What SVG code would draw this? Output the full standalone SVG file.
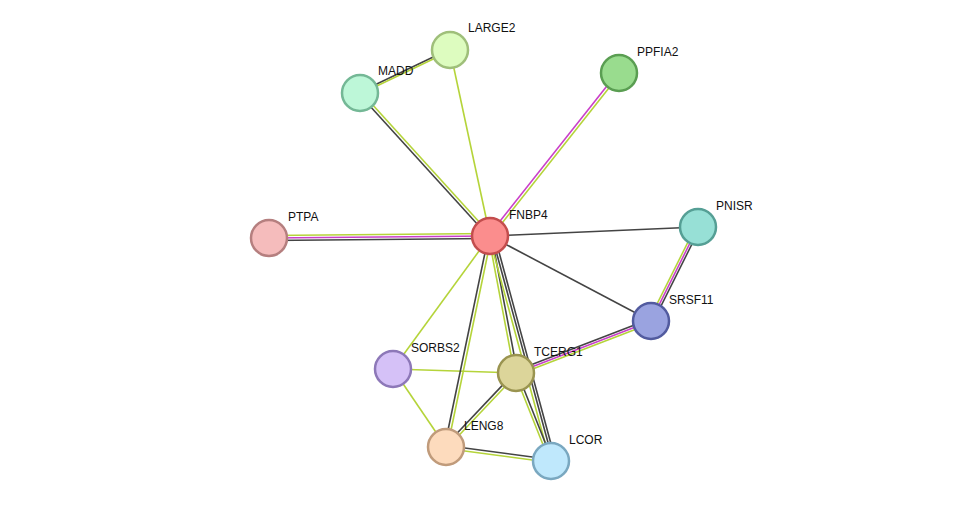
<svg xmlns="http://www.w3.org/2000/svg" width="975" height="507" viewBox="0 0 975 507">
<style>
.k{stroke:#444;stroke-width:1.6}
.y{stroke:#b5d43a;stroke-width:1.6}
.m{stroke:#c93fc9;stroke-width:1.6}
circle{stroke-width:2.5}
text{font-family:"Liberation Sans",Arial,sans-serif;font-size:12px;fill:#111}
</style>
<rect width="975" height="507" fill="#fff"/>
<g id="edges">
<line class="y" x1="490" y1="236" x2="450" y2="50"/>
<line class="k" x1="489" y1="237" x2="359" y2="94"/><line class="y" x1="491" y1="235" x2="361" y2="92"/>
<line class="k" x1="360" y1="92" x2="450" y2="49"/><line class="y" x1="360" y1="94" x2="450" y2="51"/>
<line class="m" x1="489" y1="235" x2="618" y2="72"/><line class="y" x1="491" y1="237" x2="620" y2="74"/>
<line class="y" x1="490" y1="233.5" x2="269" y2="235.5"/><line class="m" x1="490" y1="236" x2="269" y2="238"/><line class="k" x1="490" y1="238.5" x2="269" y2="240.5"/>
<line class="k" x1="490" y1="236" x2="698" y2="227"/>
<line class="k" x1="490" y1="236" x2="651" y2="321"/>
<line class="y" x1="696" y1="226" x2="649" y2="320"/><line class="m" x1="698" y1="227" x2="651" y2="321"/><line class="k" x1="700" y1="228" x2="653" y2="322"/>
<line class="k" x1="650" y1="319" x2="515" y2="371"/><line class="m" x1="651" y1="321" x2="516" y2="373"/><line class="y" x1="652" y1="323" x2="517" y2="375"/>
<line class="y" x1="490" y1="236" x2="393" y2="369"/>
<line class="y" x1="393" y1="369" x2="516" y2="373"/>
<line class="y" x1="393" y1="369" x2="446" y2="447"/>
<line class="k" x1="491.5" y1="236" x2="517.5" y2="373"/><line class="y" x1="488.5" y1="236" x2="514.5" y2="373"/>
<line class="k" x1="488.5" y1="236" x2="444.5" y2="447"/><line class="y" x1="491.5" y1="236" x2="447.5" y2="447"/>
<line class="k" x1="492" y1="236" x2="553" y2="461"/><line class="y" x1="489" y1="236" x2="550" y2="461"/><line class="k" x1="494.5" y1="235.5" x2="555.5" y2="460.5"/>
<line class="k" x1="515" y1="372" x2="445" y2="446"/><line class="y" x1="517" y1="374" x2="447" y2="448"/>
<line class="k" x1="517.5" y1="373" x2="552.5" y2="461"/><line class="y" x1="514.5" y1="373" x2="549.5" y2="461"/>
<line class="k" x1="446" y1="445.5" x2="551" y2="459.5"/><line class="y" x1="446" y1="448.5" x2="551" y2="462.5"/>
</g>
<g id="LARGE2"><circle cx="450" cy="50" r="18" fill="#ddfcbf" stroke="#9fbf7a"/><text x="468" y="32">LARGE2</text></g>
<g id="MADD"><circle cx="360" cy="93" r="18" fill="#bdf7d8" stroke="#74b896"/><text x="378" y="75">MADD</text></g>
<g id="PPFIA2"><circle cx="619" cy="73" r="18" fill="#99dc8e" stroke="#5a9e52"/><text x="637" y="56">PPFIA2</text></g>
<g id="PTPA"><circle cx="269" cy="238" r="18" fill="#f5bcbc" stroke="#b57f7f"/><text x="288" y="221">PTPA</text></g>
<g id="FNBP4"><circle cx="490" cy="236" r="18" fill="#fb8d8d" stroke="#c34d4d"/><text x="509" y="219">FNBP4</text></g>
<g id="PNISR"><circle cx="698" cy="227" r="18" fill="#97e0d6" stroke="#559f95"/><text x="716" y="210">PNISR</text></g>
<g id="SRSF11"><circle cx="651" cy="321" r="18" fill="#9aa3e0" stroke="#525b9f"/><text x="669" y="304">SRSF11</text></g>
<g id="SORBS2"><circle cx="393" cy="369" r="18" fill="#d5c1f7" stroke="#8d78b8"/><text x="411" y="352">SORBS2</text></g>
<g id="TCERG1"><circle cx="516" cy="373" r="18" fill="#dcd59a" stroke="#9a9450"/><text x="534" y="356">TCERG1</text></g>
<g id="LENG8"><circle cx="446" cy="447" r="18" fill="#fddbbd" stroke="#c09b7b"/><text x="464" y="430">LENG8</text></g>
<g id="LCOR"><circle cx="551" cy="461" r="18" fill="#bfe8fc" stroke="#7aa8c0"/><text x="569" y="444">LCOR</text></g>
</svg>
